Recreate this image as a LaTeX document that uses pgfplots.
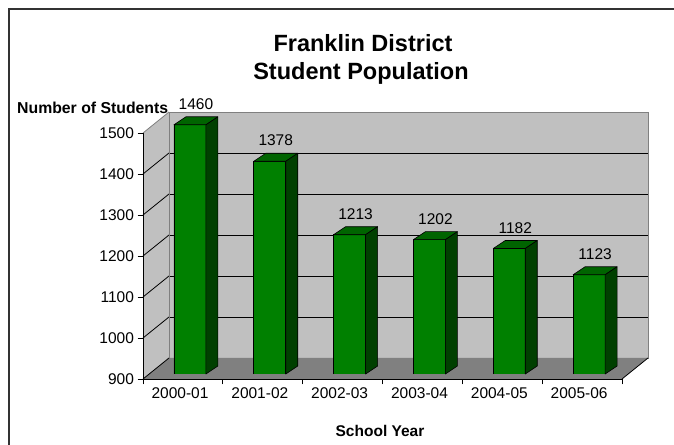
\documentclass[border=0pt]{standalone}
\usepackage{fontspec}
\setmainfont{Liberation Sans}
\usepackage{pgfplots}
\pgfplotsset{compat=1.18}
\usepackage{pgfplotstable}
\definecolor{wallgray}{HTML}{C0C0C0}
\definecolor{edgegray}{HTML}{808080}
\definecolor{floorgray}{HTML}{808080}
\definecolor{barfront}{HTML}{008000}
\definecolor{bartop}{HTML}{006400}
\definecolor{barside}{HTML}{004000}

\pgfplotsset{/pgf/number format/.cd, 1000 sep={}, assume math mode=true}

\pgfplotstableread{
idx val
0 1460
1 1378
2 1213
3 1202
4 1182
5 1123
}\popdata

% top and side faces of a 3D column, drawn at the column's front top centre
\pgfdeclareplotmark{bar3d}{%
  \pgfmathsetmacro\barH{(\barval-900)*0.445}%
  \pgfmathsetmacro\barB{8-\barH}%
  \path[fill=bartop,draw=black,line width=0.6pt,line join=round]
    (-16pt,0pt) -- (16pt,0pt) -- (28pt,8pt) -- (-4pt,8pt) -- cycle;
  \path[fill=barside,draw=black,line width=0.6pt,line join=round]
    (16pt,0pt) -- (28pt,8pt) -- (28pt,\barB pt) -- (16pt,-\barH pt) -- cycle;
}

\tikzset{back/.style={xshift=26pt,yshift=21pt}}

\begin{document}
\begin{tikzpicture}
\useasboundingbox (0,0) rectangle (674pt,444pt);
\fill[white] (0,0) rectangle (674pt,444pt);
\draw[line width=2pt, black!80] (8.5pt,-5pt) -- (8.5pt,435pt) -- (680pt,435pt);

% titles
\node[font=\fontsize{23.5}{27}\selectfont\bfseries, anchor=base] at (363pt,392pt) {Franklin District};
\node[font=\fontsize{23.5}{27}\selectfont\bfseries, anchor=base] at (361pt,364pt) {Student Population};
\node[font=\fontsize{15.8}{18}\selectfont\bfseries, anchor=base west, inner sep=0pt] at (17pt,330pt) {Number of Students};
\node[font=\fontsize{15.5}{18}\selectfont\bfseries, anchor=base, inner sep=0pt] at (380pt,7pt) {School Year};

% front plane axis with walls and floor
\begin{axis}[
  at={(143pt,65pt)}, anchor=south west,
  scale only axis, width=479pt, height=246pt,
  xmin=-0.5, xmax=5.5, ymin=900, ymax=1500,
  clip=false,
  axis lines*=left,
  axis line style={-, black, line width=0.8pt},
  axis on top,
  xtick={-0.5,0.5,1.5,2.5,3.5,4.5,5.5},
  xticklabels={2000-01,2001-02,2002-03,2003-04,2004-05,2005-06,{}},
  xticklabel style={xshift=37pt},
  ytick={900,1000,1100,1200,1300,1400,1500},
  tick align=outside,
  major tick length=5.5pt,
  tick style={black, line width=0.8pt},
  tick label style={font=\fontsize{15.5}{18}\selectfont, text=black},
]
\fill[wallgray] ([back]axis cs:-0.5,900) rectangle ([back]axis cs:5.5,1500);
\fill[wallgray] (axis cs:-0.5,900) -- (axis cs:-0.5,1500) -- ([back]axis cs:-0.5,1500) -- ([back]axis cs:-0.5,900) -- cycle;
\fill[floorgray] (axis cs:-0.5,900) -- (axis cs:5.5,900) -- ([back]axis cs:5.5,900) -- ([back]axis cs:-0.5,900) -- cycle;
\pgfplotsinvokeforeach{1000,1100,1200,1300,1400}{
  \draw[black, line width=0.8pt] ([back]axis cs:-0.5,#1) -- ([back]axis cs:5.5,#1);
  \draw[black, line width=0.8pt] (axis cs:-0.5,#1) -- ([back]axis cs:-0.5,#1);
}
\draw[edgegray, line width=0.8pt] ([back]axis cs:-0.5,900) rectangle ([back]axis cs:5.5,1500);
\draw[edgegray, line width=0.8pt] (axis cs:-0.5,1500) -- ([back]axis cs:-0.5,1500);
\draw[black, line width=0.8pt] (axis cs:-0.5,900) -- ([back]axis cs:-0.5,900);
\draw[black, line width=0.8pt] (axis cs:5.5,900) -- ([back]axis cs:5.5,900);
\end{axis}

% columns, set at mid depth
\begin{axis}[
  at={(150pt,70pt)}, anchor=south west,
  scale only axis, width=479pt, height=311.5pt,
  xmin=-0.5, xmax=5.5, ymin=900, ymax=1600,
  hide axis,
]
\addplot[ybar, bar width=32pt, fill=barfront, draw=black, line width=0.6pt,
  nodes near coords,
  nodes near coords style={font=\fontsize{15.5}{18}\selectfont, text=black, anchor=base, inner sep=0pt, yshift=15.5pt, xshift=6pt},
] table[x=idx, y=val] {\popdata};
\addplot[only marks, mark=bar3d,
  visualization depends on={y \as \barval},
] table[x=idx, y=val] {\popdata};
\end{axis}
\end{tikzpicture}
\end{document}
